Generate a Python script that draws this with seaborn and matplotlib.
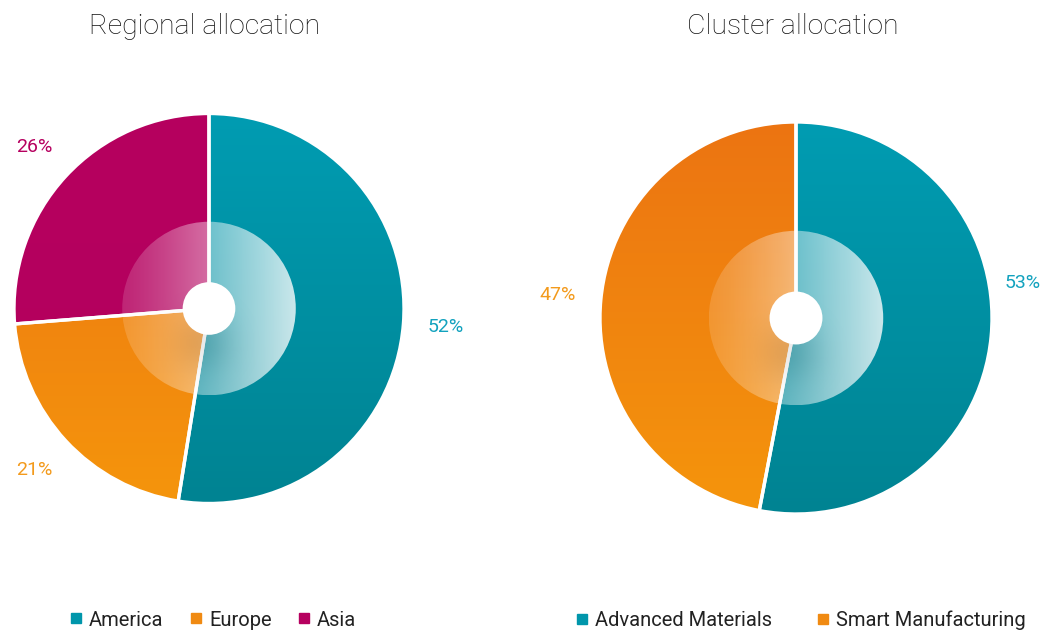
import numpy as np
import matplotlib
matplotlib.use("Agg")
import matplotlib.pyplot as plt
from matplotlib.lines import Line2D
from matplotlib.patches import Circle, Wedge
from matplotlib.colors import to_rgb
import seaborn as sns

# ---- data ----
regional_labels = ["America", "Europe", "Asia"]
regional_values = [52, 21, 26]
cluster_labels = ["Advanced Materials", "Smart Manufacturing"]
cluster_values = [53, 47]

titles = ["Regional allocation", "Cluster allocation"]

# gradient colours (top, bottom) and label colours
teal = ("#009CB2", "#008392")
orange = ("#EC7412", "#F5950C")
magenta = ("#B6005F", "#B3005D")
regional_grad = [teal, orange, magenta]
cluster_grad = [teal, orange]
regional_text = ["#12A2BE", "#F39A1C", "#B6005F"]
cluster_text = ["#12A2BE", "#F39A1C"]
legend_colors_reg = ["#0096AB", "#F08A12", "#B6005F"]
legend_colors_clu = ["#0096AB", "#F08A12"]

sns.set_theme(style="white")
plt.rcParams["font.family"] = ["Roboto", "DejaVu Sans"]

W, H = 1048, 632
fig = plt.figure(figsize=(W / 100, H / 100), dpi=100)


def gradient_image(c_top, c_bot, n=256):
    t = np.linspace(0, 1, n)[:, None]
    a = np.array(to_rgb(c_top))
    b = np.array(to_rgb(c_bot))
    img = a[None, None, :] * (1 - t[..., None]) + b[None, None, :] * t[..., None]
    img = np.repeat(img, 4, axis=1)
    return img


def ring_image(n=256):
    x = np.linspace(-1, 1, n)
    y = np.linspace(1, -1, n)
    X, Y = np.meshgrid(x, y)
    img = np.ones((n, n, 4))
    alpha = 0.15 + 0.65 * ((X + 1) / 2) ** 1.2
    shade = np.exp(-((X + 0.1) ** 2 / 0.12 + (Y + 0.4) ** 2 / 0.12))
    g = 1 - 0.2 * shade
    img[..., 0] = g
    img[..., 1] = g
    img[..., 2] = g
    img[..., 3] = np.clip(alpha, 0, 1)
    return img


def draw_donut(rect, values, grads, text_colors, label_override=None):
    ax = fig.add_axes(rect)
    ax.axis("off")
    wedges, _ = ax.pie(values, startangle=90, counterclock=False, radius=1,
                       center=(0, 0), frame=False,
                       wedgeprops=dict(linewidth=0))
    ax.set_aspect("equal")
    ax.set_xlim(-1, 1)
    ax.set_ylim(-1, 1)
    for w, (ct, cb) in zip(wedges, grads):
        w.set_facecolor("none")
        im = ax.imshow(gradient_image(ct, cb), extent=(-1, 1, -1, 1),
                       aspect="auto", zorder=1, interpolation="bilinear")
        im.set_clip_path(w)
    # white separators
    for w in wedges:
        ax.add_patch(Wedge(w.center, w.r, w.theta1, w.theta2,
                           facecolor="none", edgecolor="white",
                           linewidth=2.4, zorder=2))
    # translucent inner ring
    ring = Circle((0, 0), 0.445, facecolor="none", edgecolor="none",
                  linewidth=0)
    ax.add_patch(ring)
    rim = ax.imshow(ring_image(), extent=(-0.445, 0.445, -0.445, 0.445),
                    aspect="auto", zorder=3, interpolation="bilinear")
    rim.set_clip_path(ring)
    ax.add_patch(Circle((0, 0), 0.135, facecolor="white", edgecolor="none",
                        linewidth=0, zorder=4))
    ax.set_xlim(-1, 1)
    ax.set_ylim(-1, 1)
    # percentage labels
    for i, (w, v) in enumerate(zip(wedges, values)):
        ang = np.deg2rad((w.theta1 + w.theta2) / 2)
        r = 1.22
        if label_override and i in label_override:
            ang = np.deg2rad(label_override[i][0])
            r = label_override[i][1]
        ax.text(r * np.cos(ang), r * np.sin(ang), f"{v}%",
                ha="center", va="center", fontsize=14, fontweight="normal",
                color=text_colors[i], clip_on=False)
    return ax


def rect_for(cx, cy, r):
    return [(cx - r) / W, (H - (cy + r)) / H, 2 * r / W, 2 * r / H]


ax1 = draw_donut(rect_for(209, 308.5, 195), regional_values, regional_grad,
                 regional_text)
ax2 = draw_donut(rect_for(796, 318, 196), cluster_values, cluster_grad,
                 cluster_text, label_override={0: (8.7, 1.17)})

fig.text(205 / W, 1 - 26 / H, titles[0], ha="center", va="center",
         fontsize=20.5, fontweight="light", color="#111111")
fig.text(793 / W, 1 - 26 / H, titles[1], ha="center", va="center",
         fontsize=20.5, fontweight="light", color="#111111")


def make_handles(colors):
    return [Line2D([0], [0], marker="s", linestyle="none", markersize=6.5,
                   markerfacecolor=c, markeredgecolor=c) for c in colors]


leg1 = fig.legend(make_handles(legend_colors_reg), regional_labels,
                  loc="center", bbox_to_anchor=(213 / W, 1 - 620 / H),
                  ncol=3, frameon=False, handlelength=0.6,
                  handletextpad=0.35, columnspacing=1.3,
                  prop=dict(weight="normal", size=14.5))
leg2 = fig.legend(make_handles(legend_colors_clu), cluster_labels,
                  loc="center", bbox_to_anchor=(801 / W, 1 - 620 / H),
                  ncol=2, frameon=False, handlelength=0.6,
                  handletextpad=0.35, columnspacing=2.2,
                  prop=dict(weight="normal", size=14.5))
for leg in (leg1, leg2):
    for t in leg.get_texts():
        t.set_color("#222222")

fig.savefig("out.png", dpi=100, facecolor="white")
